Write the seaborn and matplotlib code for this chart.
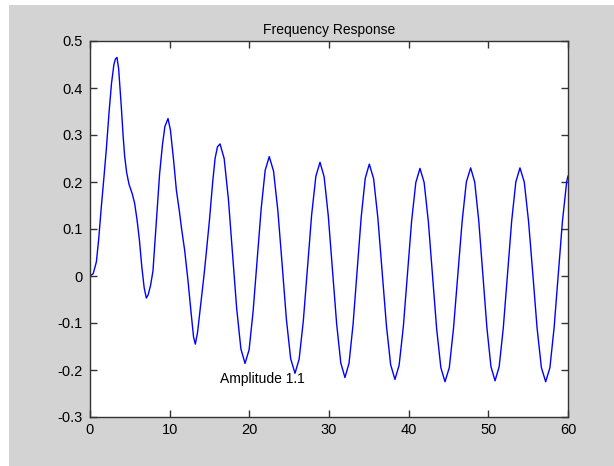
import matplotlib
matplotlib.use("Agg")
import matplotlib.pyplot as plt
from matplotlib.patches import Rectangle
import seaborn as sns
import pandas as pd

# ---- data ----
freq = [0, 0.4, 0.8, 1.1, 1.42, 1.75, 2.05, 2.4, 2.7, 3.0, 3.2, 3.39, 3.6, 3.93, 4.15,
        4.35, 4.6, 4.9, 5.3, 5.6, 5.9, 6.2, 6.5, 6.8, 7.07, 7.3, 7.6, 7.9, 8.3, 8.74,
        9.1, 9.4, 9.79, 10.1, 10.5, 10.84, 11.2, 11.5, 11.88, 12.3, 12.7, 13.0, 13.22,
        13.5, 13.9, 14.3, 14.6, 15.0, 15.4, 15.7, 16.0, 16.32,
        16.84, 17.37, 17.89, 18.41, 18.94, 19.46,
        19.97, 20.47, 20.98, 21.49, 21.99, 22.5,
        23.04, 23.58, 24.12, 24.65, 25.19, 25.73,
        26.25, 26.78, 27.30, 27.82, 28.35, 28.87,
        29.39, 29.91, 30.44, 30.96, 31.48, 32.0,
        32.51, 33.02, 33.53, 34.04, 34.55, 35.06,
        35.60, 36.13, 36.67, 37.21, 37.74, 38.28,
        38.80, 39.33, 39.85, 40.37, 40.90, 41.42,
        41.94, 42.47, 42.99, 43.51, 44.04, 44.56,
        45.10, 45.63, 46.17, 46.71, 47.24, 47.78,
        48.29, 48.80, 49.31, 49.82, 50.33, 50.84,
        51.36, 51.88, 52.41, 52.93, 53.45, 53.97,
        54.51, 55.05, 55.59, 56.12, 56.66, 57.2,
        57.73, 58.25, 58.78, 59.30, 59.83, 60.0]
amplitude = [0.0, 0.005, 0.03, 0.08, 0.147, 0.21, 0.27, 0.35, 0.41, 0.45, 0.462, 0.465, 0.44, 0.36, 0.30,
             0.255, 0.22, 0.195, 0.175, 0.155, 0.12, 0.077, 0.02, -0.025, -0.047, -0.04, -0.02, 0.01, 0.11, 0.218,
             0.28, 0.318, 0.335, 0.31, 0.245, 0.183, 0.14, 0.10, 0.055, -0.01, -0.08, -0.13, -0.145,
             -0.12, -0.06, 0.0, 0.05, 0.12, 0.20, 0.25, 0.275, 0.281,
             0.250, 0.164, 0.048, -0.069, -0.155, -0.186,
             -0.157, -0.076, 0.034, 0.144, 0.225, 0.254,
             0.223, 0.139, 0.024, -0.092, -0.176, -0.207,
             -0.177, -0.095, 0.018, 0.130, 0.212, 0.242,
             0.211, 0.128, 0.013, -0.102, -0.185, -0.216,
             -0.186, -0.103, 0.011, 0.125, 0.208, 0.238,
             0.207, 0.124, 0.009, -0.106, -0.189, -0.220,
             -0.190, -0.108, 0.005, 0.117, 0.199, 0.229,
             0.199, 0.116, 0.002, -0.112, -0.195, -0.225,
             -0.195, -0.111, 0.003, 0.116, 0.200, 0.230,
             0.200, 0.117, 0.004, -0.110, -0.193, -0.223,
             -0.193, -0.110, 0.004, 0.117, 0.200, 0.230,
             0.200, 0.116, 0.003, -0.111, -0.195, -0.225,
             -0.195, -0.111, 0.003, 0.116, 0.200, 0.213]
x_ticks = [0, 10, 20, 30, 40, 50, 60]
y_ticks = [-0.3, -0.2, -0.1, 0, 0.1, 0.2, 0.3, 0.4, 0.5]
y_tick_labels = ["-0.3", "-0.2", "-0.1", "0", "0.1", "0.2", "0.3", "0.4", "0.5"]
title_text = "Frequency Response"
annotation_text = "Amplitude 1.1"
annotation_pos = (16.3, -0.22)

df = pd.DataFrame({"freq": freq, "amp": amplitude})

sns.set_style("white")
plt.rcParams["font.family"] = ["Liberation Sans", "DejaVu Sans"]

fig = plt.figure(figsize=(6.14, 4.66), dpi=100)
fig.patch.set_facecolor("white")
fig.patches.append(Rectangle((9 / 614, 0), 1 - 9 / 614, (466 - 5) / 466,
                             transform=fig.transFigure, facecolor="#d3d3d3",
                             edgecolor="none", zorder=-10))

ax = fig.add_axes([90 / 614, (466 - 417) / 466, 478 / 614, 376 / 466])
ax.set_facecolor("white")

sns.lineplot(data=df, x="freq", y="amp", ax=ax, color="#0000ff", linewidth=1.0,
             sort=False, estimator=None)

ax.set_xlim(0, 60)
ax.set_ylim(-0.3, 0.5)
ax.set_xticks(x_ticks)
ax.set_xticklabels([str(t) for t in x_ticks])
ax.set_yticks(y_ticks)
ax.set_yticklabels(y_tick_labels)
ax.set_xlabel("")
ax.set_ylabel("")

ax.tick_params(axis="both", which="both", direction="in", length=5, width=1,
               color="#333333", labelsize=10.5, labelcolor="black",
               top=True, right=True, bottom=True, left=True)
ax.tick_params(axis="x", pad=4)
ax.tick_params(axis="y", pad=5)
for s in ax.spines.values():
    s.set_visible(True)
    s.set_color("#333333")
    s.set_linewidth(1.0)

ax.set_title(title_text, fontsize=10, pad=5, color="black")
ax.text(annotation_pos[0], annotation_pos[1], annotation_text, fontsize=10,
        ha="left", va="center", color="black")

fig.savefig("out.png", dpi=100, facecolor=fig.get_facecolor())
